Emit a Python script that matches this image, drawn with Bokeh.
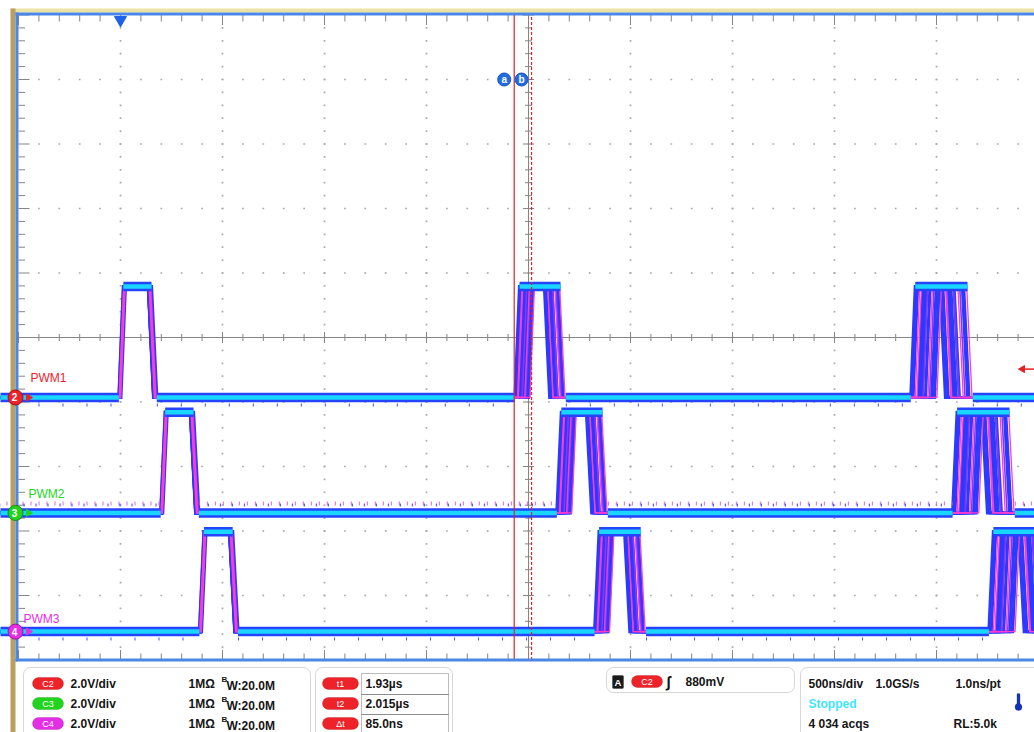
import numpy as np
from bokeh.plotting import figure
from bokeh.models import BoxAnnotation, Label, Range1d
from bokeh.core.properties import value
from bokeh.embed import file_html
from bokeh.resources import INLINE

# ---------------- values ----------------
time_per_div_us = 0.5
volts_per_div = 2.0
channel_names = ["PWM1", "PWM2", "PWM3"]
channel_ids = ["2", "3", "4"]
channel_tags = ["C2", "C3", "C4"]
channel_colors = ["#ee2229", "#22d41e", "#e42ee4"]
channel_edge_colors = ["#a01010", "#118a11", "#9a169a"]
channel_position_div = [-0.93, -2.72, -4.56]
channel_high_v = [3.44, 3.12, 3.10]
rise_us_pwm1 = [0.003, 1.945, 3.885]
rise_us_pwm2 = [0.208, 2.150, 4.090]
rise_us_pwm3 = [0.398, 2.335, 4.268]
pulse_width_us = [0.146, 0.147, 0.149]
edge_rise_us = 0.022
edge_fall_us = 0.026
jitter_cycle1_us = [0.000, 0.002, 0.004, 0.001, 0.006, 0.003, 0.008, 0.005, 0.010, 0.007, 0.004, 0.009, 0.002, 0.006]
jitter_cycle2_us = [0.000, 0.012, 0.020, 0.006, 0.035, 0.027, 0.048, 0.041, 0.058, 0.016, 0.066, 0.052, 0.073, 0.031]
jitter_cycle3_us = [0.000, 0.022, 0.038, 0.011, 0.061, 0.049, 0.084, 0.072, 0.103, 0.030, 0.116, 0.092, 0.128, 0.055]
width_jitter_us = [0.000, 0.004, -0.003, 0.002, 0.005, -0.002, 0.003, -0.004, 0.006, 0.001, -0.001, 0.004, 0.002, -0.003]
trace_grade = ["b", "m", "b", "b", "p", "b", "m", "b", "b", "m", "b", "p", "m", "b"]
cursor_a_us = 1.93
cursor_b_us = 2.015
trigger_level_v = 0.88
scale_rows = [["2.0V/div", "1MΩ", "W:20.0M"]] * 3
cursor_tags = ["t1", "t2", "Δt"]
cursor_values = ["1.93µs", "2.015µs", "85.0ns"]
trigger_text = "880mV"
timebase_texts = ["500ns/div", "1.0GS/s", "1.0ns/pt", "Stopped", "4 034 acqs", "RL:5.0k"]

# ---------------- screen geometry (picture pixels) ----------------
PAGE_X_T0 = 120.0     # x of t = 0 (trigger)
PX_PER_US = 204.0
PAGE_Y_0 = 337.0      # y of the centre graticule line
PX_PER_DIV = 64.5
OFF = 0


def tx(xp):
    return (xp - PAGE_X_T0) / PX_PER_US


def dy(yp):
    return (PAGE_Y_0 - yp) / PX_PER_DIV


W, H = 1034, 732
p = figure(width=W, height=H, x_range=Range1d(tx(OFF), tx(OFF + W)), y_range=Range1d(dy(OFF + H), dy(OFF)),
           output_backend="svg", toolbar_location=None, min_border=0,
           x_axis_location=None, y_axis_location=None)
p.outline_line_color = None
p.grid.visible = False
p.background_fill_color = "white"
p.border_fill_color = "white"

FONT = "Liberation Sans"

# ---------------- graticule ----------------
g_l, g_r = -0.5, 4.5
g_b, g_t = -5.0, 5.0
major_t = np.round(np.arange(g_l, g_r + 1e-9, time_per_div_us), 4)
minor_t = np.round(np.arange(g_l, g_r + 1e-9, time_per_div_us / 5), 4)
major_y = np.arange(g_b, g_t + 1e-9, 1.0)
minor_y = np.round(np.arange(g_b, g_t + 1e-9, 0.2), 4)
centre_t = 2.0

dx_, dy_ = [], []
for t in major_t[1:-1]:
    if abs(t - centre_t) < 1e-6:
        continue
    for y in minor_y[1:-1]:
        dx_.append(t); dy_.append(y)
for y in major_y[1:-1]:
    if abs(y) < 1e-6:
        continue
    for t in minor_t[1:-1]:
        dx_.append(t); dy_.append(y)
p.scatter(dx_, dy_, marker="square", size=1.7, fill_color="#a8a8a8", line_color=None)

GR = "#858585"
p.segment(x0=[centre_t, g_l], y0=[g_b, 0], x1=[centre_t, g_r], y1=[g_t, 0], line_color=GR, line_width=1)


def is_major(v, step):
    return abs((v / step) - round(v / step)) < 1e-6


sx0, sy0, sx1, sy1 = [], [], [], []
for t in minor_t:
    L = (5.5 if is_major(t - g_l, 0.5) else 3.5) / PX_PER_DIV
    sx0.append(t); sy0.append(-L); sx1.append(t); sy1.append(L)
for y in minor_y:
    L = (5.5 if is_major(y, 1.0) else 3.5) / PX_PER_US
    sx0.append(centre_t - L); sy0.append(y); sx1.append(centre_t + L); sy1.append(y)
for t in minor_t:
    L = (10 if is_major(t - g_l, 0.5) else 6.5) / PX_PER_DIV
    sx0 += [t, t]; sy0 += [g_t, g_b]; sx1 += [t, t]; sy1 += [g_t - L, g_b + L]
for y in minor_y:
    L = (11 if is_major(y, 1.0) else 6.5) / PX_PER_US
    sx0.append(g_l); sy0.append(y); sx1.append(g_l + L); sy1.append(y)
p.segment(x0=sx0, y0=sy0, x1=sx1, y1=sy1, line_color=GR, line_width=1)

# ---------------- traces ----------------
rise_lists = [rise_us_pwm1, rise_us_pwm2, rise_us_pwm3]
jit = [jitter_cycle1_us, jitter_cycle2_us, jitter_cycle3_us]
grade_style = {"b": ("#2a3aff", 3.2), "p": ("#8a34ff", 1.6), "m": ("#ff3ccc", 1.3)}
t_start, t_end = tx(-10), tx(1060)
tr, tf = edge_rise_us, edge_fall_us
n = len(trace_grade)

for ci in range(3):
    base = channel_position_div[ci]
    high = base + channel_high_v[ci] / volts_per_div
    traces = {"b": ([], []), "p": ([], []), "m": ([], [])}
    for k in range(n):
        xs, ys = [t_start], [base]
        for c in range(3):
            r = rise_lists[ci][c] + jit[c][k]
            f = r + pulse_width_us[ci] + width_jitter_us[k]
            xs += [r - tr / 2, r + tr / 2, f - tf / 2, f + tf / 2]
            ys += [base, high, high, base]
        xs.append(t_end); ys.append(base)
        traces[trace_grade[k]][0].append(xs)
        traces[trace_grade[k]][1].append(ys)
    for g in ["b", "p", "m"]:
        col, w = grade_style[g]
        p.multi_line(traces[g][0], traces[g][1], line_color=col, line_width=w, line_join="miter")

    fx, fy = [], []
    prev = t_start
    for c in range(3):
        r_min = rise_lists[ci][c] + min(jit[c])
        r_max = rise_lists[ci][c] + max(jit[c])
        f_max = r_max + pulse_width_us[ci] + max(width_jitter_us)
        fx.append([prev, r_min - tr / 2]); fy.append([base, base])
        fx.append([r_min + tr / 2, f_max - tf / 2]); fy.append([high, high])
        prev = f_max + tf / 2
    fx.append([prev, t_end]); fy.append([base, base])
    p.multi_line(fx, fy, line_color="#2444ff", line_width=9.5, line_cap="butt")
    p.multi_line(fx, fy, line_color="#18d6ff", line_width=4.5, line_cap="butt")

    nx = [seg for seg, yy in zip(fx, fy) if yy[0] == base]
    if ci == 1:
        p.multi_line(nx, [[base + 9.5 / PX_PER_DIV] * 2 for _ in nx], line_color="#d24ce6",
                     line_width=4, line_dash="1 7", line_cap="butt", line_alpha=0.85)
        p.multi_line(nx, [[base + 8 / PX_PER_DIV] * 2 for _ in nx], line_color="#3a46ff",
                     line_width=3, line_dash="1 11", line_dash_offset=3, line_cap="butt")
    else:
        p.multi_line(nx, [[base - 7.5 / PX_PER_DIV] * 2 for _ in nx], line_color="#4450ff",
                     line_width=3, line_dash="1 23", line_cap="butt")

# ---------------- cursors ----------------
p.segment(x0=[cursor_a_us], y0=[g_b], x1=[cursor_a_us], y1=[g_t], line_color="#e02424", line_width=1.2)
p.segment(x0=[cursor_b_us], y0=[g_b], x1=[cursor_b_us], y1=[g_t], line_color="#e02424", line_width=1.2,
          line_dash="3 2")
lab_y = 4.0
cur_x = [cursor_a_us - 10 / PX_PER_US, cursor_b_us - 10 / PX_PER_US]
p.scatter(cur_x, [lab_y, lab_y], marker="circle", size=13, fill_color="#1f6ee6", line_color="#1750b8")
p.text(cur_x, [lab_y, lab_y], text=["a", "b"], text_color="white", text_font=value(FONT),
       text_font_size="10px", text_font_style="bold", text_align="center", text_baseline="middle")

p.scatter([0.0], [g_t - 5 / PX_PER_DIV], marker="inverted_triangle", size=12, fill_color="#1c62ea",
          line_color="#1c62ea")
trig_y = channel_position_div[0] + trigger_level_v / volts_per_div
p.segment(x0=[tx(1021)], y0=[trig_y], x1=[tx(1034)], y1=[trig_y], line_color="#e52020", line_width=1.5)
p.scatter([tx(1022)], [trig_y], marker="triangle", angle=np.pi / 2, size=7, fill_color="#e52020",
          line_color="#e52020")

# ---------------- frame chrome ----------------
def q(x0, x1, y0, y1, color):
    p.quad(left=tx(x0), right=tx(x1), top=dy(y0), bottom=dy(y1), fill_color=color, line_color=None)


q(10, 1040, 8, 12, "#ebe3a4")
q(10, 15, 8, 740, "#b9a060")
q(15, 1040, 12, 15, "#4d87e6")
q(15, 18, 12, 661, "#4d87e6")
q(15, 1040, 658, 661, "#4d87e6")

for ci in range(3):
    yb = channel_position_div[ci]
    p.scatter([tx(28)], [yb], marker="triangle", angle=-np.pi / 2, size=7,
              fill_color=channel_colors[ci], line_color=channel_colors[ci])
    p.scatter([tx(15)], [yb], marker="circle", size=15, fill_color=channel_colors[ci],
              line_color=channel_edge_colors[ci], line_width=1)
    p.text([tx(14)], [yb], text=[channel_ids[ci]], text_color="white", text_font=value(FONT),
           text_font_size="10px", text_font_style="bold", text_align="center", text_baseline="middle")

label_page_xy = [(30, 377), (28, 493), (23, 618)]
for ci in range(3):
    xp, yp = label_page_xy[ci]
    p.add_layout(Label(x=tx(xp), y=dy(yp), text=channel_names[ci], text_color=channel_colors[ci],
                       text_font=FONT, text_font_size="12px", text_baseline="middle"))

# ---------------- status bar ----------------
def box(x0, x1, y0, y1, fill="white", line="#7a7a7a", r=7, lw=1, alpha=1.0):
    p.add_layout(BoxAnnotation(left=tx(x0), right=tx(x1), top=dy(y0), bottom=dy(y1), fill_color=fill,
                               fill_alpha=alpha, line_color=line, line_width=lw, border_radius=r,
                               level="overlay"))


def lab(text, xp, yp, size=12, color="#151515", bold=True, align="left"):
    p.add_layout(Label(x=tx(xp), y=dy(yp), text=text, text_font=FONT, text_font_size=f"{size}px",
                       text_color=color, text_font_style="bold" if bold else "normal",
                       text_align=align, text_baseline="middle", level="overlay"))


def pill(x0, x1, yc, fill, edge, text):
    box(x0, x1, yc - 6, yc + 6, fill=fill, line=edge, r=6)
    lab(text, (x0 + x1) / 2, yc + 0.5, size=9, color="white", bold=False, align="center")


rows = [683, 703, 723]
box(23, 310, 667, 745)
box(315, 452, 667, 745)
box(606, 794, 667, 692)
box(800, 1045, 667, 745)

for i, yc in enumerate(rows):
    pill(32, 63, yc, channel_colors[i], channel_edge_colors[i], channel_tags[i])
    lab(scale_rows[i][0], 70, yc)
    lab(scale_rows[i][1], 188, yc)
    lab("B", 221, yc - 4, size=8)
    lab(scale_rows[i][2], 226, yc + 2)
    pill(322, 358, yc, "#ee2229", "#a01010", cursor_tags[i])
    lab(cursor_values[i], 365, yc)

cell_y = [673, 694, 714]
box(361, 448, cell_y[0], 745, fill="white", line="#222", r=0, alpha=0.0)
for yc in cell_y[1:]:
    p.add_layout(BoxAnnotation(left=tx(361), right=tx(448), top=dy(yc), bottom=dy(yc + 0.01),
                               fill_alpha=0, line_color="#222", line_width=1, level="overlay"))

box(612, 623, 675, 688, fill="#1a1a1a", line="#1a1a1a", r=1)
lab("A", 617.5, 681.5, size=9.5, color="white", align="center")
pill(631, 662, 681, "#ee2229", "#a01010", "C2")
lab(trigger_text, 685, 681)

lab(timebase_texts[0], 808, rows[0])
lab(timebase_texts[1], 875, rows[0])
lab(timebase_texts[2], 955, rows[0])
lab(timebase_texts[3], 808, rows[1], color="#3fe4ff")
lab(timebase_texts[4], 808, rows[2])
lab(timebase_texts[5], 953, rows[2])

p.add_layout(Label(x=tx(666), y=dy(681), text="∫", text_font=FONT, text_font_size="15px",
                   text_color="#111", text_font_style="bold", text_baseline="middle", level="overlay"))
box(1016.5, 1019.5, 693, 706, fill="#1432b4", line="#1432b4", r=1)
box(1014.5, 1021.5, 703, 710, fill="#1432b4", line="#1432b4", r=4)

open("out.html", "w").write(file_html(p, INLINE))
